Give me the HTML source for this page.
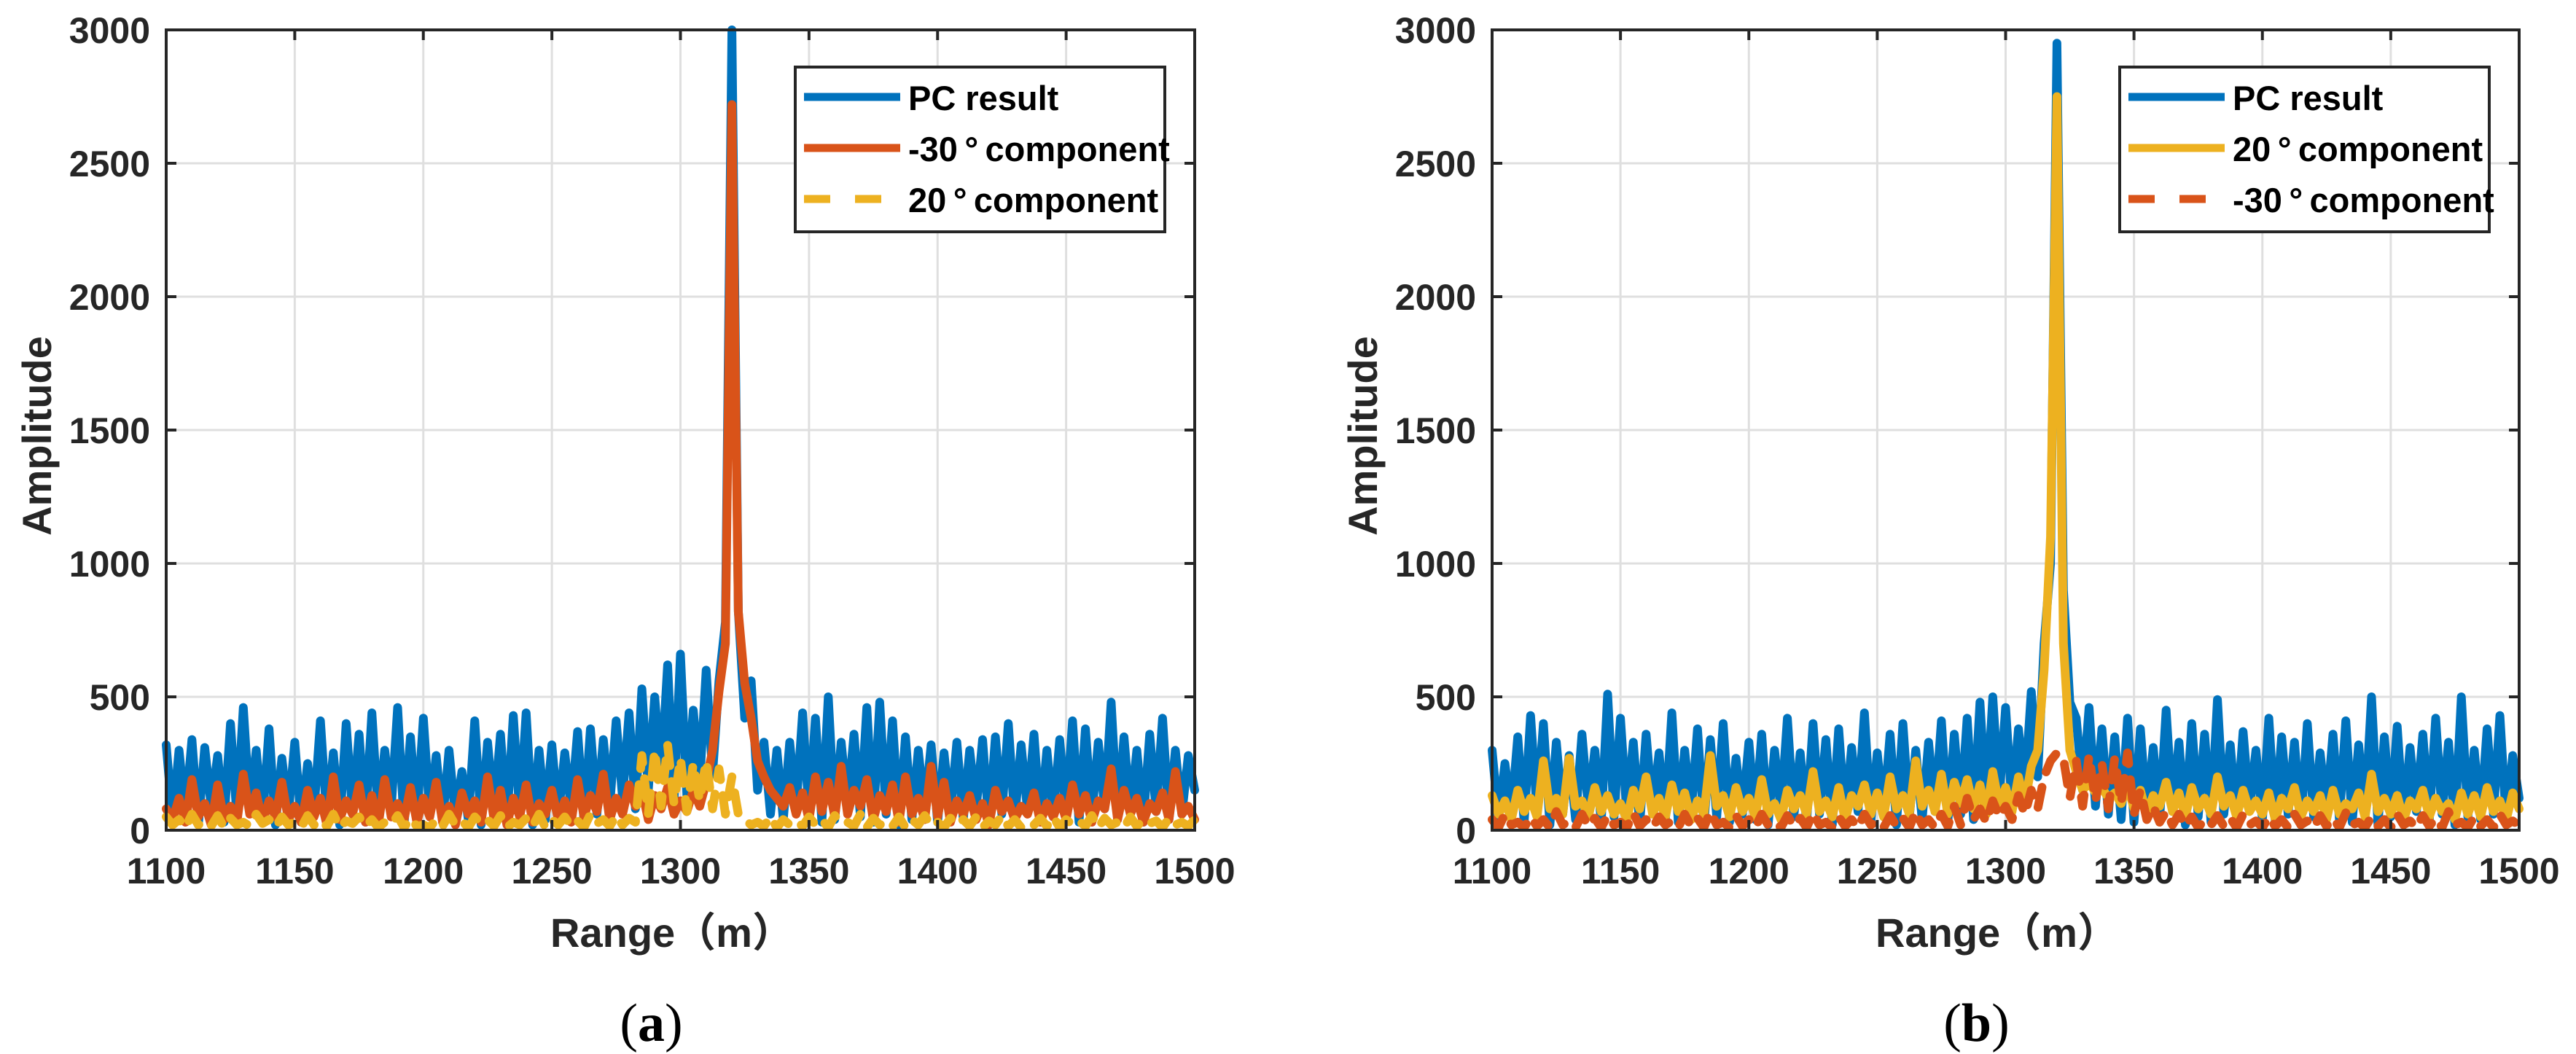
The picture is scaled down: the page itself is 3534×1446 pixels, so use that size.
<!DOCTYPE html>
<html><head><meta charset="utf-8">
<style>
html,body{margin:0;padding:0;background:#fff;}
svg{display:block;}
text{font-family:"Liberation Sans","Noto Sans CJK SC",sans-serif;font-weight:bold;fill:#262626;}
</style></head>
<body>
<svg id="fig" width="3534" height="1446" viewBox="0 0 3534 1446" xmlns="http://www.w3.org/2000/svg"></svg>
<script>
const xTicks = [1100,1150,1200,1250,1300,1350,1400,1450,1500];
const yTicks = [0,500,1000,1500,2000,2500,3000];
const xStart = 1100, xStep = 2.5;

const blueA = [320,40,300,60,340,20,310,90,280,30,400,50,460,80,300,40,380,20,270,60,
330,30,250,70,410,40,290,20,400,60,360,30,440,50,300,80,460,20,350,40,
420,60,280,30,300,50,220,40,410,20,330,70,360,30,430,60,440,20,300,40,
320,50,290,80,370,30,380,60,340,90,410,120,440,80,530,150,500,200,620,110,
660,130,450,180,600,210,560,780,
3000,
820,420,560,150,330,60,300,40,330,80,440,
60,420,30,500,40,330,90,360,50,460,30,480,60,410,20,350,40,300,70,320,
30,290,60,330,40,300,80,340,20,350,60,400,40,320,70,360,30,300,50,340,
60,410,30,380,50,330,80,480,40,350,60,300,30,360,70,420,40,300,60,280,150];
const orangeA = [80,40,120,30,190,50,100,20,170,40,90,30,210,60,140,30,110,50,180,40,
90,30,150,50,120,20,200,40,110,60,170,30,130,20,190,50,100,40,160,30,
120,50,180,30,90,20,140,60,110,30,200,40,150,20,120,50,170,30,100,60,
150,40,110,30,190,50,130,70,210,40,120,60,170,90,150,40,130,80,160,60,
110,70,150,90,180,300,520,700,
2720,
820,550,420,260,200,150,120,90,160,60,140,
40,200,70,180,50,240,60,150,90,190,40,130,70,170,30,200,60,120,40,240,
50,180,30,110,60,130,40,100,20,150,70,110,40,90,60,140,30,100,50,120,
40,170,60,130,30,110,80,230,40,150,60,120,30,100,70,140,40,220,60,90,40];
const yellowA = [50,20,40,10,60,20,35,15,55,10,45,20,30,15,60,25,40,10,50,20,
30,10,55,20,40,15,60,10,35,25,50,15,40,10,30,20,55,10,45,15,
20,10,40,15,60,20,35,10,50,25,40,15,55,10,30,20,45,15,60,10,
40,20,50,15,35,10,60,25,40,15,55,20,45,30,280,60,300,90,320,100,
270,70,250,110,260,80,230,60,
200,
60,40,20,30,15,50,10,40,20,35,15,
50,20,40,10,55,25,30,15,60,10,45,20,35,15,50,10,40,20,55,15,
30,10,45,20,40,15,50,10,35,20,55,15,40,10,30,20,45,15,50,10,
40,20,35,15,55,10,45,20,30,10,50,15,40,25,35,10,45,20,30,15,40];

const blueB = [300,40,250,60,350,30,430,70,400,20,330,60,280,40,360,80,300,30,510,50,
420,60,330,20,360,70,290,40,440,30,300,60,380,20,340,50,400,30,270,60,
330,40,360,20,300,70,420,50,290,30,400,60,340,20,380,40,310,70,440,30,
290,60,360,20,400,50,300,40,330,70,410,30,360,60,420,40,480,80,500,120,
460,90,380,150,520,200,700,1000,
2950,
900,480,420,150,460,90,380,60,350,40,420,
30,380,60,310,40,450,70,330,20,400,50,360,30,490,60,320,40,370,80,300,
40,420,30,350,60,330,20,400,50,290,70,360,40,410,30,320,60,500,20,350,
50,390,30,310,70,360,40,420,60,330,20,500,50,300,40,380,60,430,30,280,120];
const yellowB = [130,60,110,40,150,70,120,50,260,80,120,60,270,90,110,50,160,70,130,60,
100,40,150,80,200,60,120,50,170,70,140,40,110,60,280,90,130,50,160,70,
120,50,190,60,100,40,150,80,130,60,220,70,110,50,160,40,130,90,170,60,
140,50,200,80,130,60,260,90,150,70,210,60,180,100,190,80,170,60,220,90,
160,70,200,100,240,300,600,1100,
2750,
700,300,220,150,180,140,160,120,140,100,170,
80,150,60,130,90,180,70,140,50,160,80,120,60,200,90,130,50,150,70,110,
60,140,40,120,80,160,50,110,70,130,40,150,60,100,80,140,50,210,70,120,
60,130,40,110,80,150,50,120,70,100,40,140,60,130,50,160,70,110,40,140,80];
const orangeB = [40,10,60,20,30,10,50,15,40,10,70,20,35,10,60,15,45,10,55,20,
30,10,65,15,40,10,50,20,35,10,60,15,45,10,70,20,30,10,55,15,
40,10,60,20,35,10,55,15,45,10,65,20,30,10,50,15,40,10,60,20,
35,10,55,15,45,10,70,20,40,10,60,15,90,20,120,40,80,30,110,50,
90,40,130,60,150,80,200,260,
290,
270,120,260,90,280,110,250,80,270,100,290,
60,150,40,90,30,70,20,60,15,50,10,40,20,55,15,45,10,60,20,35,
10,50,15,40,10,60,20,35,10,55,15,45,10,65,20,30,10,50,15,40,
10,60,20,35,10,55,15,45,10,70,20,30,10,50,15,40,10,60,20,35,15];

const BLUE='#0072BD', ORANGE='#D95319', YELLOW='#EDB120';
const NS='http://www.w3.org/2000/svg';
const svg=document.getElementById('fig');
function mk(tag,attrs,parent){const e=document.createElementNS(NS,tag);for(const k in attrs)e.setAttribute(k,attrs[k]);(parent||svg).appendChild(e);return e;}

function panel(id,L,R,T,B,series,legendEntries,letter){
  const g=mk('g',{});
  
  
  const xs=v=>L+(v-1100)/400*(R-L);
  const ys=v=>B-(v/3000)*(B-T);
  xTicks.forEach(t=>{const l=mk('line',{x1:xs(t),x2:xs(t),y1:T,y2:B,stroke:'#dfdfdf','stroke-width':3},g);
    
    });
  yTicks.forEach(t=>{const l=mk('line',{x1:L,x2:R,y1:ys(t),y2:ys(t),stroke:'#dfdfdf','stroke-width':3},g);
    
    });
  series.forEach(s=>{
    const d=s.data.map((v,i)=>(i?'L':'M')+xs(xStart+i*xStep).toFixed(1)+' '+ys(v).toFixed(1)).join('');
    const p=mk('path',{d:d,fill:'none',stroke:s.color,'stroke-width':12,'stroke-linejoin':'round','stroke-linecap':'round'},g);
    if(s.dash)p.setAttribute('stroke-dasharray','28 22');
    
    
  });
  mk('rect',{x:L-40,y:B+2,width:R-L+80,height:30,fill:'#fff'},g);
  const box=mk('rect',{x:L,y:T,width:R-L,height:B-T,fill:'none',stroke:'#262626','stroke-width':4},g);
  
  
  xTicks.forEach(t=>{
    mk('line',{x1:xs(t),x2:xs(t),y1:B,y2:B-14,stroke:'#262626','stroke-width':4},g);
    mk('line',{x1:xs(t),x2:xs(t),y1:T,y2:T+14,stroke:'#262626','stroke-width':4},g);
    const tx=mk('text',{x:xs(t),y:1212,'text-anchor':'middle','font-size':50},g);
    tx.textContent=t;
    
    
  });
  yTicks.forEach(t=>{
    mk('line',{x1:L,x2:L+14,y1:ys(t),y2:ys(t),stroke:'#262626','stroke-width':4},g);
    mk('line',{x1:R,x2:R-14,y1:ys(t),y2:ys(t),stroke:'#262626','stroke-width':4},g);
    const tx=mk('text',{x:L-22,y:ys(t)+18,'text-anchor':'end','font-size':50},g);
    tx.textContent=t;
    
    
  });
  const yl=mk('text',{x:0,y:0,'text-anchor':'middle','font-size':56,transform:`translate(${L-158},${(T+B)/2+8}) rotate(-90)`},g);
  yl.textContent='Amplitude';
  
  
  const xl=mk('text',{x:(L+R)/2-12,y:1299,'text-anchor':'middle','font-size':56},g);
  xl.textContent='Range（m）';
  
  
  const cap=mk('text',{x:(L+R)/2-40,y:1428,'text-anchor':'middle','font-size':74,style:'font-family:"Liberation Serif",serif;fill:#000;font-weight:normal'},g);
  cap.innerHTML='(<tspan font-weight="bold">'+letter+'</tspan>)';
  
  
  const LR=R-41, LW=507, LL=LR-LW, LT=92, LH=226;
  const lg=mk('g',{},g);
  
  
  mk('rect',{x:LL,y:LT,width:LW,height:LH,fill:'#fff',stroke:'#262626','stroke-width':4},lg);
  legendEntries.forEach((e,i)=>{
    const cy=LT+41+i*70;
    const ln=mk('line',{x1:LL+12,x2:LL+144,y1:cy,y2:cy,stroke:e.color,'stroke-width':11},lg);
    if(e.dash)ln.setAttribute('stroke-dasharray','36 34');
    
    
    const t=mk('text',{x:LL+155,y:cy+18,'font-size':47,style:'fill:#000'},lg);
    t.textContent=e.label;
    
    
  });
}

panel('panel-a',228,1639,41,1139,
  [{data:blueA,color:BLUE,name:'pc-result-line'},{data:orangeA,color:ORANGE,name:'minus30-component-line'},{data:yellowA,color:YELLOW,dash:true,name:'20deg-component-line'}],
  [{label:'PC result',color:BLUE},{label:'-30\u2009°\u2009component',color:ORANGE},{label:'20\u2009°\u2009component',color:YELLOW,dash:true}],'a');
panel('panel-b',2047,3456,41,1139,
  [{data:blueB,color:BLUE,name:'pc-result-line'},{data:yellowB,color:YELLOW,name:'20deg-component-line'},{data:orangeB,color:ORANGE,dash:true,name:'minus30-component-line'}],
  [{label:'PC result',color:BLUE},{label:'20\u2009°\u2009component',color:YELLOW},{label:'-30\u2009°\u2009component',color:ORANGE,dash:true}],'b');
</script>
</body></html>
